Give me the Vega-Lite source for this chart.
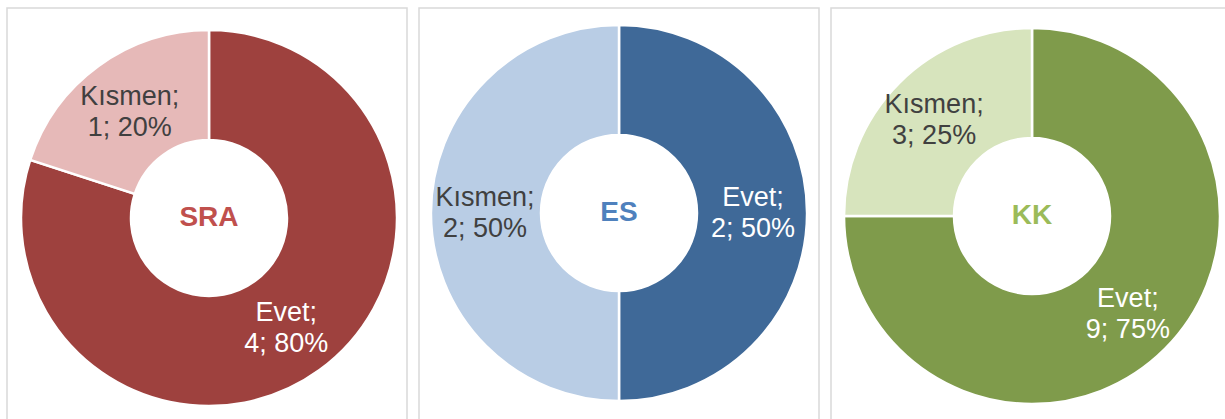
{
  "$schema": "https://vega.github.io/schema/vega-lite/v6.json",
  "padding": {"left": 6, "top": 7, "right": 0, "bottom": 0},
  "background": "white",
  "spacing": 10,
  "config": {
    "view": {"stroke": "#d9d9d9", "strokeWidth": 1.5},
    "font": "Liberation Sans"
  },
  "datasets": {
    "slices": [
      {"panel": "SRA", "answer": "Evet", "order": 1, "count": 4, "slice": "SRA-Evet", "label": "Evet;\n4; 80%"},
      {"panel": "SRA", "answer": "Kısmen", "order": 2, "count": 1, "slice": "SRA-Kısmen", "label": "Kısmen;\n1; 20%"},
      {"panel": "ES", "answer": "Evet", "order": 1, "count": 2, "slice": "ES-Evet", "label": "Evet;\n2; 50%"},
      {"panel": "ES", "answer": "Kısmen", "order": 2, "count": 2, "slice": "ES-Kısmen", "label": "Kısmen;\n2; 50%"},
      {"panel": "KK", "answer": "Evet", "order": 1, "count": 9, "slice": "KK-Evet", "label": "Evet;\n9; 75%"},
      {"panel": "KK", "answer": "Kısmen", "order": 2, "count": 3, "slice": "KK-Kısmen", "label": "Kısmen;\n3; 25%"}
    ],
    "centers": [
      {"panel": "SRA"},
      {"panel": "ES"},
      {"panel": "KK"}
    ]
  },
  "hconcat": [
    {
      "width": 400,
      "height": 420,
      "view": {"stroke": "#d9d9d9", "strokeWidth": 1.5},
      "layer": [
        {
          "data": {"name": "slices"},
          "transform": [{"filter": "datum.panel == 'SRA'"}],
          "mark": {"type": "arc", "outerRadius": 188, "innerRadius": 78, "stroke": "white", "strokeWidth": 2.5, "xOffset": 2},
          "encoding": {
            "theta": {"field": "count", "type": "quantitative", "stack": true},
            "order": {"field": "order", "type": "quantitative"},
            "color": {"field": "slice", "type": "nominal", "legend": null,
              "scale": {"domain": ["SRA-Evet", "SRA-Kısmen", "ES-Evet", "ES-Kısmen", "KK-Evet", "KK-Kısmen"],
                        "range": ["#9e413e", "#e6b9b8", "#3f6998", "#b9cde5", "#7f9b4b", "#d7e4bd"]}}
          }
        },
        {
          "data": {"name": "slices"},
          "transform": [{"filter": "datum.panel == 'SRA'"}],
          "mark": {"type": "text", "radius": 133, "fontSize": 27, "lineBreak": "\n", "lineHeight": 31, "align": "center", "baseline": "middle", "dy": -13, "xOffset": 1},
          "encoding": {
            "theta": {"field": "count", "type": "quantitative", "stack": true},
            "order": {"field": "order", "type": "quantitative"},
            "text": {"field": "label"},
            "color": {"condition": {"test": "datum.answer == 'Evet'", "value": "#ffffff"}, "value": "#404040"}
          }
        },
        {
          "data": {"name": "centers"},
          "transform": [{"filter": "datum.panel == 'SRA'"}],
          "mark": {"type": "text", "fontSize": 28, "fontWeight": "bold", "color": "#c0504d", "align": "center", "baseline": "middle", "xOffset": 2},
          "encoding": {"text": {"field": "panel"}}
        }
      ]
    },
    {
      "width": 400,
      "height": 420,
      "view": {"stroke": "#d9d9d9", "strokeWidth": 1.5},
      "layer": [
        {
          "data": {"name": "slices"},
          "transform": [{"filter": "datum.panel == 'ES'"}],
          "mark": {"type": "arc", "outerRadius": 188, "innerRadius": 78, "stroke": "white", "strokeWidth": 2.5, "yOffset": -5},
          "encoding": {
            "theta": {"field": "count", "type": "quantitative", "stack": true},
            "order": {"field": "order", "type": "quantitative"},
            "color": {"field": "slice", "type": "nominal", "legend": null}
          }
        },
        {
          "data": {"name": "slices"},
          "transform": [{"filter": "datum.panel == 'ES'"}],
          "mark": {"type": "text", "radius": 134, "fontSize": 27, "lineBreak": "\n", "lineHeight": 31, "align": "center", "baseline": "middle", "dy": -15, "yOffset": -5},
          "encoding": {
            "theta": {"field": "count", "type": "quantitative", "stack": true},
            "order": {"field": "order", "type": "quantitative"},
            "text": {"field": "label"},
            "color": {"condition": {"test": "datum.answer == 'Evet'", "value": "#ffffff"}, "value": "#404040"}
          }
        },
        {
          "data": {"name": "centers"},
          "transform": [{"filter": "datum.panel == 'ES'"}],
          "mark": {"type": "text", "fontSize": 28, "fontWeight": "bold", "color": "#4f81bd", "align": "center", "baseline": "middle", "yOffset": -5},
          "encoding": {"text": {"field": "panel"}}
        }
      ]
    },
    {
      "width": 400,
      "height": 420,
      "view": {"stroke": "#d9d9d9", "strokeWidth": 1.5},
      "layer": [
        {
          "data": {"name": "slices"},
          "transform": [{"filter": "datum.panel == 'KK'"}],
          "mark": {"type": "arc", "outerRadius": 188, "innerRadius": 78, "stroke": "white", "strokeWidth": 2.5, "xOffset": 1, "yOffset": -2},
          "encoding": {
            "theta": {"field": "count", "type": "quantitative", "stack": true},
            "order": {"field": "order", "type": "quantitative"},
            "color": {"field": "slice", "type": "nominal", "legend": null}
          }
        },
        {
          "data": {"name": "slices"},
          "transform": [{"filter": "datum.panel == 'KK'"}],
          "mark": {"type": "text", "radius": 137, "fontSize": 27, "lineBreak": "\n", "lineHeight": 31, "align": "center", "baseline": "middle", "dy": -14, "xOffset": 0, "yOffset": -2},
          "encoding": {
            "theta": {"field": "count", "type": "quantitative", "stack": true},
            "order": {"field": "order", "type": "quantitative"},
            "text": {"field": "label"},
            "color": {"condition": {"test": "datum.answer == 'Evet'", "value": "#ffffff"}, "value": "#404040"}
          }
        },
        {
          "data": {"name": "centers"},
          "transform": [{"filter": "datum.panel == 'KK'"}],
          "mark": {"type": "text", "fontSize": 28, "fontWeight": "bold", "color": "#9bbb59", "align": "center", "baseline": "middle", "xOffset": 1, "yOffset": -2},
          "encoding": {"text": {"field": "panel"}}
        }
      ]
    }
  ]
}
